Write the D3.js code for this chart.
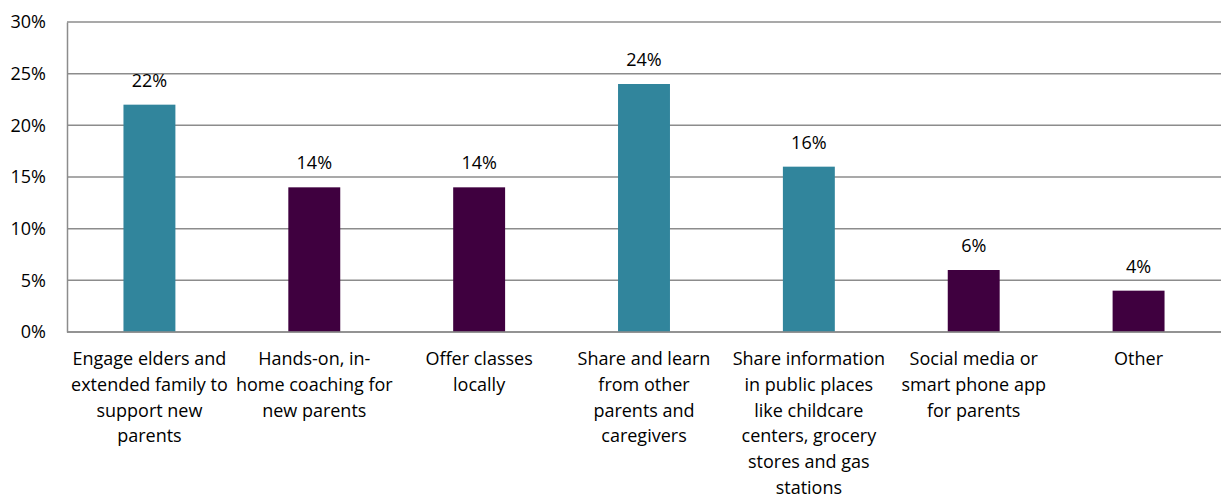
<!DOCTYPE html>
<html>
<head>
<meta charset="utf-8">
<script src="https://cdn.jsdelivr.net/npm/d3@7"></script>
<style>
  html, body { margin: 0; padding: 0; background: #fff; }
  svg { display: block; font-family: "Open Sans", "Lato", sans-serif; }
</style>
</head>
<body>
<svg id="chart" width="1221" height="499"></svg>
<script>
// Category labels, with the line breaks used under the axis
const categories = [
  "Engage elders and\nextended family to\nsupport new\nparents",
  "Hands-on, in-\nhome coaching for\nnew parents",
  "Offer classes\nlocally",
  "Share and learn\nfrom other\nparents and\ncaregivers",
  "Share information\nin public places\nlike childcare\ncenters, grocery\nstores and gas\nstations",
  "Social media or\nsmart phone app\nfor parents",
  "Other"
];
// Share of responses (%)
const values = [22, 14, 14, 24, 16, 6, 4];
const barColors = ["#31859C", "#3F003F", "#3F003F", "#31859C", "#31859C", "#3F003F", "#3F003F"];
const yTicks = [0, 5, 10, 15, 20, 25, 30];

const FONT = "'Open Sans', Lato, sans-serif";
const svg = d3.select("#chart");
const margin = { left: 67, right: 0, top: 22, bottom: 167 };
const W = 1221, H = 499;

const x = d3.scaleBand()
  .domain(categories)
  .range([margin.left, W - margin.right])
  .paddingInner(0.685)
  .paddingOuter(0.3425);

const y = d3.scaleLinear()
  .domain([0, 30])
  .range([H - margin.bottom, margin.top]);

// Horizontal gridlines
svg.append("g")
  .selectAll("line")
  .data(yTicks)
  .join("line")
  .attr("x1", margin.left)
  .attr("x2", W)
  .attr("y1", d => y(d))
  .attr("y2", d => y(d))
  .attr("stroke", "#8c8c8c")
  .attr("stroke-width", 1.5);

// Y axis
const yAxis = svg.append("g")
  .attr("transform", `translate(${margin.left},0)`)
  .call(d3.axisLeft(y).tickValues(yTicks).tickFormat(d => d + "%").tickSize(0).tickPadding(21));
yAxis.select(".domain").attr("stroke", "#8c8c8c").attr("stroke-width", 1.5);
yAxis.selectAll("text").attr("font-size", 18).attr("fill", "#000").attr("font-family", FONT);

// Bars
svg.append("g")
  .selectAll("rect")
  .data(values)
  .join("rect")
  .attr("x", (d, i) => x(categories[i]))
  .attr("width", x.bandwidth())
  .attr("y", d => y(d))
  .attr("height", d => y(0) - y(d))
  .attr("fill", (d, i) => barColors[i]);

// Value labels
svg.append("g")
  .selectAll("text")
  .data(values)
  .join("text")
  .attr("x", (d, i) => x(categories[i]) + x.bandwidth() / 2)
  .attr("y", d => y(d) - 18)
  .attr("text-anchor", "middle")
  .attr("font-size", 18)
  .attr("fill", "#000")
  .text(d => d + "%");

// Baseline drawn over the bars
svg.append("line")
  .attr("x1", margin.left).attr("x2", W)
  .attr("y1", y(0)).attr("y2", y(0))
  .attr("stroke", "#8c8c8c").attr("stroke-width", 1.5);

// Category labels
const catG = svg.append("g")
  .selectAll("text")
  .data(categories)
  .join("text")
  .attr("x", d => x(d) + x.bandwidth() / 2)
  .attr("y", y(0) + 33)
  .attr("text-anchor", "middle")
  .attr("font-size", 18)
  .attr("fill", "#000");
catG.each(function(d) {
  const t = d3.select(this);
  d.split("\n").forEach((line, j) => {
    t.append("tspan")
      .attr("x", t.attr("x"))
      .attr("dy", j === 0 ? 0 : 25.8)
      .text(line);
  });
});
</script>
</body>
</html>
